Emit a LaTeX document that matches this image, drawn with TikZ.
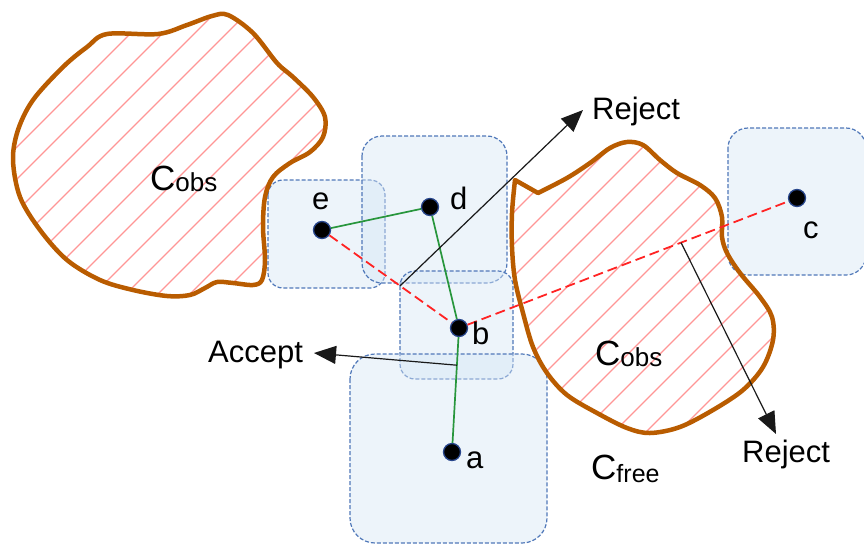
\documentclass[tikz,border=0pt]{standalone}
\usepackage{fontspec}
\setmainfont{Liberation Sans}
\usetikzlibrary{arrows.meta,calc}
\definecolor{obsc}{RGB}{185,92,0}
\definecolor{hatchc}{RGB}{255,150,150}
\definecolor{boxline}{RGB}{80,120,185}
\definecolor{boxfill}{RGB}{214,230,245}
\definecolor{greenc}{RGB}{40,150,60}
\definecolor{redc}{RGB}{255,35,35}
\definecolor{dotline}{RGB}{40,70,140}
\definecolor{arrc}{RGB}{25,25,25}
\begin{document}
\begin{tikzpicture}[x=1pt,y=-1pt,
  box/.style={draw=boxline, dash pattern=on 4pt off 2pt, line width=1.2pt, fill=boxfill, fill opacity=0.45, rounded corners=#1},
  box/.default=16pt,
  hatch/.style={draw=hatchc, line width=1.1pt},
  obs/.style={draw=obsc, line width=4.5pt, line join=round},
  gline/.style={draw=greenc, line width=1.7pt},
  rline/.style={draw=redc, line width=1.8pt, dash pattern=on 10pt off 5pt},
  arr/.style={draw=arrc, line width=1.2pt, -{Triangle[length=22pt,width=18pt]}},
  dot/.style={circle, fill=black, draw=dotline, line width=1.3pt, minimum size=17pt, inner sep=0pt},
  lbl/.style={inner sep=0pt, font=\fontsize{31}{36}\selectfont},
  clbl/.style={inner sep=0pt, anchor=base west, font=\fontsize{35}{40}\selectfont}
]
\useasboundingbox (0,0) rectangle (864,544);

% boxes
\draw[box=15pt] (268,180) rectangle (385,288);
\draw[box=20pt] (362,136) rectangle (507,283);
\draw[box=15pt] (400,271) rectangle (513,379);
\draw[box=25pt] (350,354) rectangle (547,543);
\draw[box=20pt] (728,128) rectangle (866,275);

% left obstacle
\path[save path=\obsA] plot[smooth cycle, tension=0.55] coordinates {
  (107,34) (158,34) (187,25) (212,16) (228,15) (253,33) (277,63) (293,77)
  (313,97) (325,117) (323,137) (310,152) (290,163) (273,177) (265,197)
  (263,227) (265,260) (262,280) (253,285) (233,283) (217,282) (205,288)
  (190,295) (167,296) (133,290) (100,280) (67,260) (40,230) (20,197)
  (13,160) (18,130) (33,100) (63,67) (87,47)};
\begin{scope}
  \clip[use path=\obsA];
  \foreach \k in {100,132,...,600} \draw[hatch] (\k,0) -- ({\k-600},600);
\end{scope}
\draw[obs, use path=\obsA];

% right obstacle
\path[save path=\obsB] plot[smooth, tension=0.55] coordinates {
  (538,193) (567,178) (590,163) (610,148) (627,142) (643,145) (660,160)
  (677,173) (700,185) (715,198) (722,217) (722,237) (727,253) (740,273)
  (760,297) (772,317) (773,340) (763,367) (743,390) (713,410) (680,427)
  (650,433) (627,428) (597,413) (567,395) (547,373) (533,347) (523,313)
  (515,280) (512,247) (512,213) (515,180)} -- cycle;
\begin{scope}
  \clip[use path=\obsB];
  \foreach \k in {662,694,...,1160} \draw[hatch] (\k,0) -- ({\k-600},600);
\end{scope}
\draw[obs, use path=\obsB];

% sample points
\node[dot] (e) at (322,230) {};
\node[dot] (d) at (430,207) {};
\node[dot] (b) at (459,328) {};
\node[dot] (a) at (452,452) {};
\node[dot] (c) at (797,198) {};

% connections
\draw[gline] (e) -- (d);
\draw[gline] (d) -- (b);
\draw[gline] (b) -- (a);
\draw[rline] (e) -- (b);
\draw[rline] (b) -- (c);

% arrows
\coordinate (s1) at ($(e)!0.57!(b)$);
\coordinate (t1) at (583,110);
\draw[arr] (s1) -- (t1);
\coordinate (s2) at ($(b)!0.3!(a)$);
\coordinate (t2) at (314,353);
\draw[arr] (s2) -- (t2);
\coordinate (s3) at ($(b)!0.657!(c)$);
\coordinate (t3) at (776,434);
\draw[arr] (s3) -- (t3);

% labels
\node[lbl, anchor=base west] (rej1) at (592,119) {Reject};
\node[lbl, anchor=base west] (acc) at (208,362) {Accept};
\node[lbl, anchor=base west] (rej2) at (742,462) {Reject};
\node[lbl, anchor=base west] (le) at (312,209) {e};
\node[lbl, anchor=base west] (ld) at (450,209) {d};
\node[lbl, anchor=base west] (lb) at (472,344) {b};
\node[lbl, anchor=base west] (la) at (466,468) {a};
\node[lbl, anchor=base west] (lc) at (803,238) {c};

\node[clbl] (cobs1) at (150,190) {C\raisebox{-1pt}{\fontsize{26}{30}\selectfont obs}};
\node[clbl] (cobs2) at (595,365) {C\raisebox{-1pt}{\fontsize{26}{30}\selectfont obs}};
\node[clbl] (cfree) at (591,479) {C\raisebox{-3pt}{\fontsize{25}{30}\selectfont free}};
\end{tikzpicture}
\end{document}
